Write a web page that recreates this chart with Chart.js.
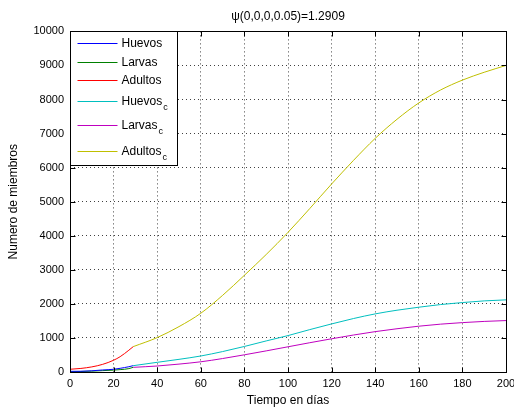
<!DOCTYPE html>
<html>
<head>
<meta charset="utf-8">
<script src="https://cdn.jsdelivr.net/npm/chart.js@4"></script>
<style>
  html, body { margin: 0; padding: 0; background: #fff; }
  canvas { display: block; }
</style>
</head>
<body>
<canvas id="grafica" width="514" height="410"></canvas>
<script>
// primera fase: población sin control
const diasInicio = [0, 5, 10, 15, 20, 23, 25, 27, 29];
const huevos  = [20, 22, 35, 60, 80, 108, 130, 155, 186];
const larvas  = [10, 15, 25, 40, 55, 70, 80, 100, 137];
const adultos = [80, 105, 150, 225, 345, 450, 540, 640, 745];

// segunda fase: población con control
const diasControl = [29, 40, 50, 60, 70, 80, 90, 100, 110, 120, 130, 140, 150, 160, 170, 180, 190, 200];
const huevosC  = [186, 284, 372, 470, 600, 750, 912, 1069, 1245, 1412, 1569, 1706, 1814, 1902, 1980, 2039, 2088, 2118];
const larvasC  = [137, 176, 232, 300, 395, 505, 620, 740, 860, 975, 1085, 1185, 1270, 1345, 1405, 1450, 1485, 1510];
const adultosC = [745, 1010, 1333, 1725, 2250, 2840, 3450, 4100, 4800, 5520, 6210, 6860, 7420, 7900, 8280, 8570, 8800, 9000];

const etiquetas = ['Huevos', 'Larvas', 'Adultos', 'Huevos_c', 'Larvas_c', 'Adultos_c'];
const colores = ['#0000ff', '#008000', '#ff0000', '#00bfbf', '#bf00bf', '#bfbf00'];

const ticksX = [0, 20, 40, 60, 80, 100, 120, 140, 160, 180, 200];
const ticksY = [0, 1000, 2000, 3000, 4000, 5000, 6000, 7000, 8000, 9000, 10000];

const puntos = (dias, valores) => dias.map((d, i) => ({ x: d, y: valores[i] }));

const series = [
  puntos(diasInicio, huevos),
  puntos(diasInicio, larvas),
  puntos(diasInicio, adultos),
  puntos(diasControl, huevosC),
  puntos(diasControl, larvasC),
  puntos(diasControl, adultosC)
];

const fuente = '"Liberation Sans", Arial, sans-serif';
Chart.defaults.font.family = fuente;
Chart.defaults.font.size = 11;
Chart.defaults.color = '#000';

// marco de ejes, marcas interiores y leyenda con subíndices
const marco = {
  id: 'marco',
  afterDraw(chart) {
    const { ctx, chartArea: a, scales: { x, y } } = chart;
    const L = Math.round(a.left) + 0.5, R = Math.round(a.right) + 0.5;
    const T = Math.round(a.top) + 0.5, B = Math.round(a.bottom) + 0.5;
    ctx.save();
    ctx.strokeStyle = '#000';
    ctx.lineWidth = 1;
    ctx.beginPath();
    ticksX.forEach(v => {
      const px = Math.round(x.getPixelForValue(v)) + 0.5;
      ctx.moveTo(px, B); ctx.lineTo(px, B - 5);
      ctx.moveTo(px, T); ctx.lineTo(px, T + 5);
    });
    ticksY.forEach(v => {
      const py = Math.round(y.getPixelForValue(v)) + 0.5;
      ctx.moveTo(L, py); ctx.lineTo(L + 5, py);
      ctx.moveTo(R, py); ctx.lineTo(R - 5, py);
    });
    ctx.stroke();
    ctx.strokeRect(L, T, R - L, B - T);

    // leyenda
    const filas = [11, 30, 48, 69, 93, 119];
    ctx.fillStyle = '#fff';
    ctx.fillRect(L, T, 107, 134);
    ctx.strokeRect(L, T, 107, 134);
    ctx.textBaseline = 'middle';
    chart.data.datasets.forEach((ds, i) => {
      const fy = Math.round(T + filas[i]);
      ctx.fillStyle = ds.borderColor;
      ctx.fillRect(L + 7, fy, 40, 1);
      const [nombre, sub] = ds.label.split('_');
      ctx.fillStyle = '#000';
      ctx.font = '12px ' + fuente;
      ctx.fillText(nombre, L + 51, fy + 1);
      if (sub) {
        const w = ctx.measureText(nombre).width;
        ctx.font = '9px ' + fuente;
        ctx.fillText(sub, L + 51 + w + 1, fy + 7);
      }
    });
    ctx.restore();
  }
};

new Chart(document.getElementById('grafica'), {
  type: 'line',
  data: {
    datasets: series.map((datos, i) => ({
      label: etiquetas[i],
      data: datos,
      borderColor: colores[i],
      backgroundColor: colores[i],
      borderWidth: 1,
      pointRadius: 0,
      cubicInterpolationMode: 'monotone',
      fill: false
    }))
  },
  options: {
    responsive: false,
    animation: false,
    layout: { padding: { left: 0, right: 8, top: 0, bottom: 0 } },
    plugins: {
      legend: { display: false },
      tooltip: { enabled: false },
      title: {
        display: true,
        text: 'ψ(0,0,0,0.05)=1.2909',
        fullSize: false,
        color: '#000',
        font: { size: 12, weight: 'normal' },
        padding: { top: 9, bottom: 8 }
      }
    },
    scales: {
      x: {
        type: 'linear',
        min: 0,
        max: 200,
        afterBuildTicks: s => { s.ticks = ticksX.map(v => ({ value: v })); },
        afterFit: s => { s.height = 38; s.paddingLeft = 0; s.paddingRight = 0; },
        grid: { color: 'rgba(0,0,0,0.75)', drawTicks: false },
        border: { display: false, dash: [1, 3] },
        ticks: { padding: 5, maxRotation: 0, callback: v => String(v) },
        title: { display: true, text: 'Tiempo en días', font: { size: 12 }, padding: { top: 0, bottom: 2 } }
      },
      y: {
        min: 0,
        max: 10000,
        afterBuildTicks: s => { s.ticks = ticksY.map(v => ({ value: v })); },
        afterFit: s => { s.width = 70; },
        grid: { color: 'rgba(0,0,0,0.75)', drawTicks: false },
        border: { display: false, dash: [1, 3] },
        ticks: { padding: 6, callback: v => String(v) },
        title: { display: true, text: 'Numero de miembros', font: { size: 12 }, padding: { top: 6, bottom: 0 } }
      }
    }
  },
  plugins: [marco]
});
</script>
</body>
</html>
